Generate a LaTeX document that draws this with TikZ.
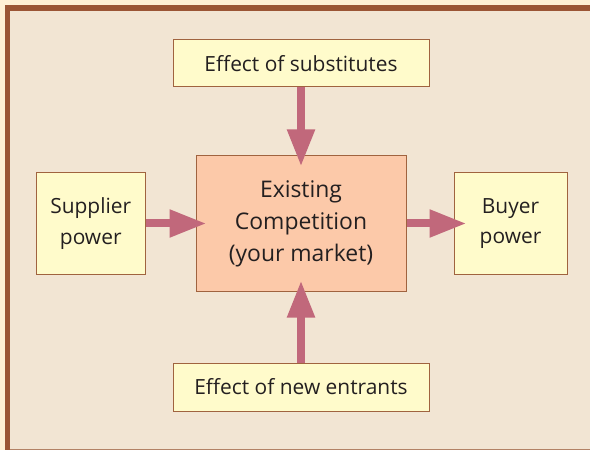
\documentclass[tikz,border=0pt]{standalone}
\usepackage{fontspec}
\setmainfont{Open Sans}
\usetikzlibrary{arrows.meta}
\definecolor{margincream}{HTML}{FFEFD5}
\definecolor{frame}{HTML}{9B5535}
\definecolor{panel}{HTML}{F2E5D3}
\definecolor{boxline}{HTML}{A0633F}
\definecolor{paleyellow}{HTML}{FFFBCB}
\definecolor{peach}{HTML}{FCC9A9}
\definecolor{mauve}{HTML}{C1687B}
\definecolor{ink}{HTML}{231F20}
\tikzset{
  px/.style={x=1bp,y=-1bp},
  force/.style={draw=boxline,line width=1bp,fill=paleyellow,text=ink,
    align=center,inner sep=0pt,font=\fontsize{21}{31}\selectfont},
  core/.style={force,fill=peach,font=\fontsize{23}{32}\selectfont},
  push/.style={draw=mauve,line width=8bp,
    -{Triangle[width=26bp,length=37bp]},shorten >=-11bp}
}
\begin{document}
\begin{tikzpicture}[px]
  % page margin, frame and panel
  \fill[margincream] (0,0) rectangle (590,450);
  \fill[frame] (5,5) rectangle (590,450);
  \fill[panel] (10,11) rectangle (590,450);
  \fill[boxline!80] (10,449) rectangle (590,450);

  % the five forces
  \node[force,minimum width=256bp,minimum height=47bp] (subs) at (301,63.5) {Effect of substitutes};
  \node[force,minimum width=256bp,minimum height=48bp] (entr) at (301,387) {Effect of new entrants};
  \node[force,minimum width=109.5bp,minimum height=101bp] (supp) at (90.75,223.5) {Supplier\\power};
  \node[force,minimum width=113bp,minimum height=101bp] (buyr) at (510.5,223.5) {Buyer\\power};
  \node[core,minimum width=210bp,minimum height=135bp] (comp) at (301,223.5) {Existing\\Competition\\(your market)};

  % pressure on the existing competition
  \draw[push] (subs.south) -- (comp.north);
  \draw[push] (entr.north) -- (comp.south);
  \draw[push] (supp.east) -- (comp.west);
  \draw[push,shorten >=-13bp] (comp.east) -- (buyr.west);
\end{tikzpicture}
\end{document}
